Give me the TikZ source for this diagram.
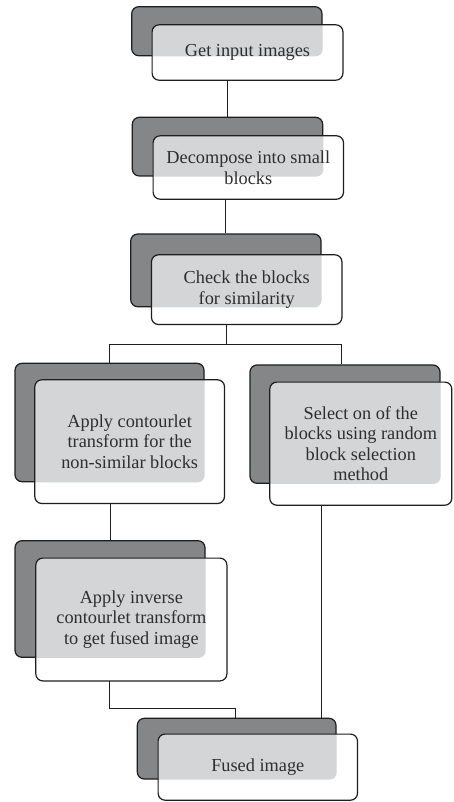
\documentclass[tikz,border=0pt]{standalone}
\usepackage{fontspec}
\setmainfont{Liberation Serif}
\usetikzlibrary{fit}
\definecolor{darkg}{HTML}{858688}
\definecolor{lightg}{HTML}{D4D5D7}
\definecolor{edgec}{HTML}{1E1E1E}
\definecolor{txtc}{HTML}{2E2E2E}
\tikzset{
 backbox/.style={draw=edgec, fill=darkg, line width=1.2pt, rounded corners=7pt, inner sep=0pt},
 frontbox/.style={fill=white, inner sep=0pt, rounded corners=7pt},
 frontline/.style={draw=edgec, line width=1.2pt, rounded corners=7pt},
 boxtext/.style={text=txtc, align=center, inner sep=0pt, font=\fontsize{18.3}{20.6}\selectfont},
 link/.style={draw=edgec, line width=1pt},
}
\newcommand\mkbox[9]{%
 \node[backbox, fit={(#2,#3) (#4,#5)}] (#1-b) {};
 \node[frontbox, fit={(#6,#7) (#8,#9)}] (#1-f) {};
 \begin{scope}
  \clip[rounded corners=7pt] (#1-f.south west) rectangle (#1-f.north east);
  \fill[lightg, rounded corners=7pt] (#1-b.south west) rectangle (#1-b.north east);
 \end{scope}
 \draw[frontline] (#1-f.south west) rectangle (#1-f.north east);
}
\begin{document}
\begin{tikzpicture}[x=1pt,y=-1pt]
\useasboundingbox[fill=white] (0,0) rectangle (453,802);
% boxes
\mkbox{b1}{131.7}{6.7}{322}{55.7}{152.3}{25}{342.7}{80}
\node[boxtext] (t1) at (b1-f.center) {Get input images};
\mkbox{b2}{132.3}{117.3}{322.7}{176}{153.3}{136}{343.3}{199}
\node[boxtext] (t2) at (b2-f.center) {Decompose into small\\blocks};
\mkbox{b3}{130.7}{234}{321}{306.7}{151.7}{255}{341.7}{324.3}
\node[boxtext] (t3) at (b3-f.center) {Check the blocks\\for similarity};
\mkbox{bL}{15}{363.3}{204}{481.7}{35}{380}{224.3}{503.3}
\node[boxtext] (tL) at (bL-f.center) {Apply contourlet\\transform for the\\non-similar blocks};
\mkbox{bR}{250}{365}{440}{483.3}{270}{382.3}{451.6}{505}
\node[boxtext] (tR) at (bR-f.center) {Select on of the\\blocks using random\\block selection\\method};
\mkbox{b5}{15}{540.7}{205}{657.3}{36}{558.3}{226.7}{680.7}
\node[boxtext] (t5) at (b5-f.center) {Apply inverse\\contourlet transform\\to get fused image};
\mkbox{b6}{137.3}{718.3}{336}{779}{158.3}{734.3}{357.3}{800}
\node[boxtext] (t6) at (b6-f.center) {Fused image};
% connectors
\draw[link] (b1-f.south -| b2-b.north) -- (b2-b.north);
\draw[link] (b2-f.south -| b3-b.north) -- (b3-b.north);
\coordinate (split) at (226,344);
\coordinate (rtop) at (341.3,344);
\draw[link] (b3-f.south -| split) -- (split);
\draw[link] (bL-b.north) -- (bL-b.north |- split) -- (rtop) -- (rtop |- bR-b.north);
\draw[link] (bL-f.south -| b5-b.north) -- (b5-b.north);
\coordinate (join) at (235,708.3);
\coordinate (ldrop) at (b5-f.south -| bL-b.north);
\draw[link] (ldrop) -- (ldrop |- join) -- (join) -- (join |- b6-b.north);
\coordinate (rdrop) at (321.7,505);
\draw[link] (bR-f.south -| rdrop) -- (rdrop |- b6-b.north);
\end{tikzpicture}
\end{document}
